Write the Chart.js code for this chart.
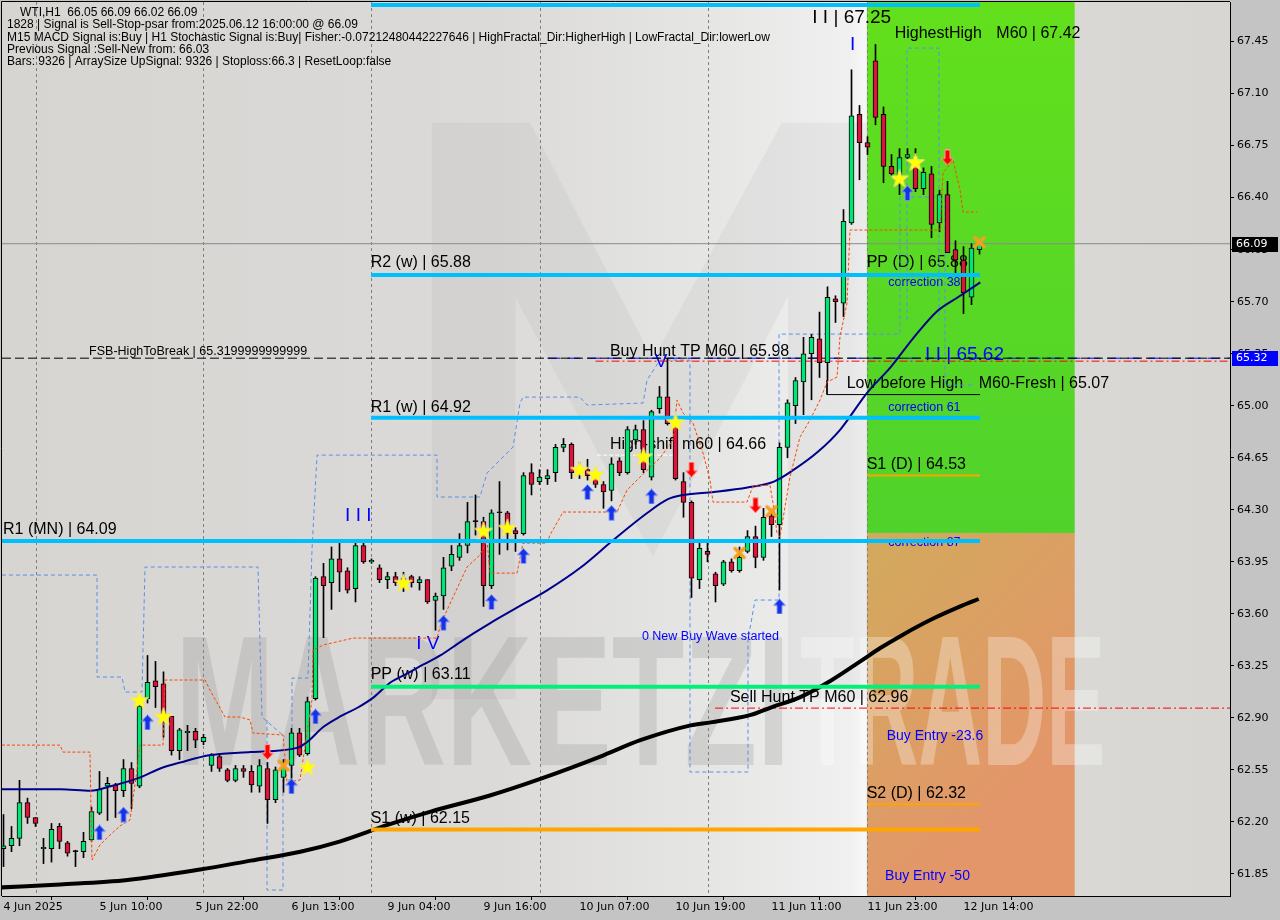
<!DOCTYPE html>
<html><head><meta charset="utf-8">
<script src="https://cdn.jsdelivr.net/npm/chart.js@4.4.0/dist/chart.umd.min.js"></script>
<style>html,body{margin:0;padding:0;background:#c4c4c4;overflow:hidden}canvas{display:block}</style>
</head><body><canvas id="c" width="1280" height="920"></canvas>
<script>
// ---------- DATA ----------
const opens  = [62.02,62.04,62.09,62.33,62.23,62.02,62.02,62.17,62.06,62.00,62.00,62.08,62.26,62.44,62.45,62.41,62.56,62.44,63.03,63.15,63.13,62.91,62.68,62.80,62.81,62.74,62.58,62.64,62.55,62.48,62.56,62.54,62.44,62.56,62.35,62.50,62.58,62.80,62.66,63.03,63.85,63.81,63.97,63.89,63.77,64.06,63.95,63.91,63.83,63.85,63.80,63.85,63.81,63.83,63.69,63.72,63.92,63.98,64.06,64.22,64.22,63.79,64.28,64.28,64.16,64.14,64.55,64.49,64.51,64.55,64.72,64.74,64.58,64.57,64.52,64.47,64.43,64.63,64.55,64.77,64.84,64.52,64.98,65.06,64.90,64.49,64.35,63.83,64.02,63.87,63.80,63.95,63.89,64.02,64.12,63.98,64.26,64.20,64.72,65.00,65.16,65.35,65.45,65.29,65.72,65.69,66.23,66.96,66.77,67.32,66.96,66.61,66.54,66.67,66.62,66.46,66.56,66.23,66.42,66.05,65.98,65.73,66.05];
const highs  = [62.25,62.17,62.48,62.36,62.23,62.09,62.19,62.19,62.07,62.01,62.13,62.30,62.54,62.50,62.46,62.62,62.60,62.99,63.32,63.28,63.21,62.91,62.83,62.85,62.83,62.79,62.66,62.66,62.56,62.58,62.58,62.58,62.62,62.60,62.57,62.62,62.83,62.83,63.04,63.85,63.94,64.05,64.08,63.91,64.10,64.08,63.97,63.93,63.88,63.88,63.88,63.86,63.85,63.83,63.74,63.98,64.06,64.14,64.35,64.40,64.25,64.30,64.49,64.29,64.18,64.55,64.61,64.57,64.57,64.74,64.78,64.75,64.62,64.64,64.57,64.49,64.65,64.65,64.86,64.87,64.90,64.97,65.13,65.32,64.92,64.55,64.36,64.08,64.08,63.88,63.96,63.97,64.05,64.16,64.19,64.31,64.30,64.75,65.04,65.19,65.46,65.48,65.63,65.80,65.74,66.32,67.26,67.02,66.81,67.43,67.01,66.69,66.73,66.73,66.73,66.60,66.61,66.45,66.51,66.11,66.07,66.09,66.09];
const lows   = [61.90,62.00,62.04,62.19,62.17,61.92,61.93,62.02,61.97,61.90,61.96,62.07,62.25,62.21,62.23,62.37,62.29,62.43,63.00,62.97,62.77,62.65,62.62,62.68,62.70,62.72,62.54,62.54,62.47,62.47,62.50,62.40,62.40,62.19,62.33,62.40,62.46,62.64,62.65,63.02,63.44,63.63,63.75,63.74,63.68,63.94,63.94,63.81,63.77,63.79,63.75,63.78,63.76,63.67,63.49,63.63,63.89,63.96,64.01,64.13,63.65,63.77,64.00,64.03,64.02,64.13,64.40,64.47,64.47,64.49,64.69,64.51,64.51,64.50,64.45,64.31,64.36,64.53,64.54,64.74,64.55,64.50,64.95,64.87,64.50,64.25,63.71,63.77,63.95,63.68,63.79,63.88,63.88,64.01,63.91,63.96,64.12,63.76,64.65,64.88,64.94,65.04,65.19,65.17,65.56,65.60,66.22,66.52,66.69,66.89,66.50,66.54,66.42,66.66,66.44,66.42,66.13,66.17,66.03,65.87,65.62,65.68,66.02];
const closes = [62.04,62.09,62.33,62.23,62.19,62.03,62.15,62.07,61.99,62.00,62.07,62.27,62.42,62.46,62.41,62.56,62.46,62.98,63.14,63.11,62.91,62.68,62.82,62.81,62.75,62.77,62.65,62.56,62.48,62.56,62.54,62.45,62.58,62.35,62.55,62.57,62.80,62.65,63.01,63.84,63.79,63.97,63.88,63.76,64.06,63.95,63.96,63.83,63.85,63.81,63.84,63.81,63.83,63.68,63.72,63.91,64.00,64.06,64.22,64.22,63.79,64.28,64.28,64.14,64.14,64.53,64.47,64.52,64.53,64.72,64.74,64.55,64.55,64.53,64.47,64.42,64.61,64.55,64.84,64.84,64.57,64.96,65.06,64.88,64.51,64.35,63.84,64.04,64.00,63.79,63.95,63.89,63.98,64.12,63.98,64.25,64.20,64.72,65.02,65.17,65.35,65.46,65.29,65.73,65.70,66.24,66.95,66.77,66.74,66.94,66.61,66.56,66.67,66.69,66.46,66.57,66.22,66.42,66.03,65.98,65.76,66.06,66.09];

const timeLabels    = ['4 Jun 2025','5 Jun 10:00','5 Jun 22:00','6 Jun 13:00','9 Jun 04:00','9 Jun 16:00','10 Jun 07:00','10 Jun 19:00','11 Jun 11:00','11 Jun 23:00','12 Jun 14:00'];
const timeLabelBars = [0,12,24,36,48,60,72,84,96,108,120];
const priceTicks    = [61.85,62.20,62.55,62.90,63.25,63.60,63.95,64.30,64.65,65.00,65.35,65.70,66.05,66.40,66.75,67.10,67.45];
const separatorBars = [4.06,24.94,45.94,67.06,88.06,107.94];

const navyBars  = [-0.4,7.1,10.9,13.4,17.1,19.6,22.1,25.9,30.9,36.8,38,40,42.1,44.3,46.3,48.4,50.5,52.5,54.6,56.8,58.8,60.9,63.8,68,72.1,76.3,80.5,83,85,88.8,93,96.3,98.8,101.8,104.6,108,110.9,113.8,116.8,119.3,122.1];
const navyVals  = [62.42,62.42,62.41,62.44,62.50,62.56,62.60,62.65,62.67,62.70,62.74,62.84,62.91,62.97,63.04,63.14,63.20,63.26,63.32,63.40,63.47,63.54,63.63,63.76,63.91,64.10,64.28,64.37,64.40,64.42,64.45,64.49,64.57,64.69,64.84,65.09,65.26,65.46,65.64,65.73,65.83];
const blackBars = [-0.2,7.1,15.5,24.6,30.9,37.1,42.1,48,53.4,60.9,67.1,74.6,79.6,85.9,88.4,93.4,95.9,99.6,103.4,107.1,109.6,112.1,115.9,119.6,121.9];
const blackVals = [61.76,61.78,61.81,61.88,61.94,62.00,62.07,62.18,62.27,62.38,62.49,62.64,62.75,62.85,62.87,62.92,62.97,63.04,63.15,63.28,63.37,63.45,63.56,63.65,63.70];
const trailBars = [-0.19,7.06,7.44,10.81,11.06,12.06,13.31,14.56,15.81,16.69,17.06,19.94,20.19,25.19,25.81,27.69,29.56,30.81,31.19,34.94,35.44,37.06,38.56,38.69,39.94,43.69,54.19,54.56,55.44,57.94,59.56,60.44,60.81,64.19,64.94,67.94,68.31,69.94,76.69,77.94,79.56,82.06,83.69,84.19,84.94,86.19,87.44,88.31,88.69,92.94,93.69,95.81,96.19,96.69,97.06,98.31,99.56,100.81,102.06,102.94,104.19,104.56,105.44,105.81,117.06,117.44,118.69,119.56,119.94,121.69];
const trailVals = [62.717,62.717,62.670,62.670,61.944,62.045,62.112,62.173,62.213,62.549,62.717,62.717,63.155,63.155,63.087,62.906,62.906,62.886,62.798,62.785,62.468,62.482,63.020,63.356,63.390,63.437,63.437,63.511,63.625,63.915,63.996,64.096,63.874,63.874,64.076,64.076,64.130,64.285,64.285,64.433,64.520,64.648,64.769,65.038,64.951,64.883,64.682,64.500,64.352,64.352,64.460,64.466,64.345,64.143,64.117,64.520,64.789,64.904,65.038,65.159,65.193,65.462,65.691,66.182,66.182,66.565,66.653,66.451,66.303,66.303];

const chanABars = [-0.19,11.69,11.69,14.81,15.19,17.31,17.69,31.81,32.31,35.19];
const chanAVals = [63.861,63.861,63.175,63.175,63.074,63.074,63.915,63.915,62.906,62.771];
const chanBBars = [32.94,32.94,34.94,34.94,36.06,36.06,38.06,38.56,39.19,54.19,54.19,59.56,60.44,63.69,64.56,64.94,72.06,72.94,79.94,80.44,82.06,85.81,85.81,93.06,93.06,93.94,96.94,96.94,112.06,112.06,117.69,117.69,121.44];
const chanBVals = [62.886,61.742,61.742,62.482,62.482,63.168,63.168,64.029,64.668,64.668,64.386,64.386,64.547,64.722,65.018,65.058,65.058,65.005,65.018,65.173,65.307,65.307,62.536,62.536,63.424,63.693,63.693,65.482,65.482,66.404,66.404,65.139,65.139];
const chanCBars = [112.94,112.94,116.94,116.94];
const chanCVals = [65.576,67.406,67.406,65.576];

const upArrowBars   = [12,15,18,36,39,55,61,65,73,76,81,97,113];
const upArrowVals   = [62.13,62.25,62.87,62.44,62.91,63.54,63.68,63.99,64.42,64.28,64.39,63.65,66.43];
const downArrowBars = [33,86,94,118];
const downArrowVals = [62.67,64.57,64.33,66.67];
const starBars      = [17,20,38,50,60,63,72,74,80,84,112,114];
const starVals      = [63.02,62.91,62.57,63.81,64.16,64.18,64.57,64.54,64.66,64.89,66.53,66.64];
const crossBars     = [35,92,96,122];
const crossVals     = [62.58,64.01,64.29,66.10];

// pivot / level lines
const levelVals = [67.695,65.88,64.92,64.09,63.11,62.15,64.53,62.32];
const levelFrom = [45.94,45.94,45.94,-0.19,45.94,45.94,107.94,107.94];
const levelTo   = [122.06,122.06,122.06,122.06,122.06,122.06,122.06,122.06];
const levelKind = ['cyan','cyan','cyan','cyan','green','orange','orangeThin','orangeThin'];

const dashVals = [65.32,65.32,65.30,62.966,66.09,64.668];
const dashFrom = [-0.19,68.0,74.0,88.94,-0.19,74.2];
const dashTo   = [153.31,153.31,153.31,153.31,153.31,84.0];
const dashKind = ['black','blue','red','red','gray','white'];

const lowBeforeHighBars = [102.94,102.94,122.06];
const lowBeforeHighVals = [65.17,65.075,65.075];

const zoneFromBar = 107.94, zoneToBar = 133.9, zoneSplitPrice = 64.144;

const noteTexts  = ['R2 (w) | 65.88','R1 (w) | 64.92','R1 (MN) | 64.09','PP (w) | 63.11','S1 (w) | 62.15','FSB-HighToBreak | 65.3199999999999','Buy Hunt TP M60 | 65.98','High-shift m60 | 64.66','Low before High','M60-Fresh | 65.07','Sell Hunt TP M60 | 62.96','PP (D) | 65.88','S1 (D) | 64.53','S2 (D) | 62.32','HighestHigh','M60 | 67.42','I I | 67.25','I','I I I','I V','V','I I | 65.62','correction 38','correction 61','correction 87','Buy Entry -23.6','Buy Entry -50','0 New Buy Wave started'];
const noteBars   = [45.9,45.9,-0.06,45.9,45.9,10.7,75.8,75.8,105.4,121.9,90.8,107.9,107.9,107.9,111.4,124.1,101.1,105.8,42.7,51.6,81.4,115.2,110.6,110.6,110.6,110.4,110.2,79.8];
const notePrices = [65.93,64.96,64.14,63.16,62.19,65.34,65.334,64.709,65.119,65.119,63.007,65.933,64.574,62.361,67.473,67.473,67.574,67.393,64.224,63.363,65.26,65.307,65.805,64.964,64.056,62.751,61.809,63.424];
const noteKind   = ['L','L','L','L','L','S','L','L','L','L','L','L','L','L','L','L','K','B','B','B','B','B','c','c','c','e','e','c'];

const headerLines = ['WTI,H1  66.05 66.09 66.02 66.09','1828 | Signal is Sell-Stop-psar from:2025.06.12 16:00:00 @ 66.09','M15 MACD Signal is:Buy | H1 Stochastic Signal is:Buy| Fisher:-0.07212480442227646 | HighFractal_Dir:HigherHigh | LowFractal_Dir:lowerLow','Previous Signal :Sell-New from: 66.03','Bars: 9326 | ArraySize UpSignal: 9326 | Stoploss:66.3 | ResetLoop:false'];
const bidPrice = 66.09, signalPrice = 65.32;

// ---------- STYLES ----------
const BULL = '#00e676', BEAR = '#dc143c';
const levelStyle = {cyan:{c:'#00bfff',w:4}, green:{c:'#00f07a',w:4}, orange:{c:'#ffa500',w:4}, orangeThin:{c:'#ffa500',w:2}};
const dashStyle = {black:{c:'#000',d:[9,4]}, blue:{c:'#0000ff',d:[13,7]}, red:{c:'#ff0000',d:[8,3,2,3]}, gray:{c:'#8a8a8a',d:[]}, white:{c:'#ffffff',d:[4,2]}};
const noteStyle = {
  L:{f:'16px "Liberation Sans"',c:'#000'}, S:{f:'12.5px "Liberation Sans"',c:'#000'},
  K:{f:'19px "Liberation Sans"',c:'#000'}, B:{f:'19px "Liberation Sans"',c:'#0000ff'},
  c:{f:'12.5px "Liberation Sans"',c:'#0000ff'}, e:{f:'14px "Liberation Sans"',c:'#0000ff'}
};

function mk(w,h,fn){const c=document.createElement('canvas');c.width=w;c.height=h;fn(c.getContext('2d'));return c;}
const starImg = mk(20,20,g=>{g.beginPath();for(let i=0;i<10;i++){const r=i%2?3.8:9.5;const a=-Math.PI/2+i*Math.PI/5;g.lineTo(10+r*Math.cos(a),10.8+r*Math.sin(a));}g.closePath();g.fillStyle='#ffff00';g.fill();g.strokeStyle='#f3e27a';g.lineWidth=1;g.stroke();});
const upImg = mk(13,16,g=>{g.beginPath();g.moveTo(6.5,0.5);g.lineTo(12.5,7);g.lineTo(9,7);g.lineTo(9,15.5);g.lineTo(4,15.5);g.lineTo(4,7);g.lineTo(0.5,7);g.closePath();g.fillStyle='#1432e6';g.fill();g.strokeStyle='#8c9cf5';g.lineWidth=1;g.stroke();});
const downImg = mk(13,16,g=>{g.beginPath();g.moveTo(6.5,15.5);g.lineTo(12.5,9);g.lineTo(9,9);g.lineTo(9,0.5);g.lineTo(4,0.5);g.lineTo(4,9);g.lineTo(0.5,9);g.closePath();g.fillStyle='#ff0000';g.fill();g.strokeStyle='#ff9a9a';g.lineWidth=1;g.stroke();});
const crossImg = mk(14,14,g=>{g.strokeStyle='#f5a020';g.lineWidth=3.5;g.lineCap='round';g.beginPath();g.moveTo(2.5,2.5);g.lineTo(11.5,11.5);g.moveTo(11.5,2.5);g.lineTo(2.5,11.5);g.stroke();});

// ---------- DATASETS ----------
const idx = opens.map((_,i)=>i);
const pts = (xs,ys)=>xs.map((x,i)=>({x:x,y:ys[i]}));
const lineDs = (xs,ys,color,width,dash,order,extra)=>Object.assign({type:'line',data:pts(xs,ys),borderColor:color,borderWidth:width,borderDash:dash||[],pointRadius:0,fill:false,tension:0,order:order},extra||{});
const markerDs = (xs,ys,img)=>({type:'line',data:pts(xs,ys),showLine:false,pointStyle:img,pointRadius:8,order:0});

const datasets = [];
datasets.push(lineDs(chanABars,chanAVals,'#5a8fe8',1,[4,3],9));
datasets.push(lineDs(chanBBars,chanBVals,'#5a8fe8',1,[4,3],9));
datasets.push(lineDs(chanCBars,chanCVals,'#5a8fe8',1,[4,3],9));
dashVals.forEach((v,i)=>{const s=dashStyle[dashKind[i]];datasets.push(lineDs([dashFrom[i],dashTo[i]],[v,v],s.c,1,s.d,8));});
datasets.push(lineDs(lowBeforeHighBars,lowBeforeHighVals,'#000',1,[],8));
datasets.push({type:'bar',data:idx.map(i=>({x:i,y:[lows[i],highs[i]]})),backgroundColor:'#000',barThickness:1,grouped:false,order:6});
datasets.push({type:'bar',data:idx.map(i=>({x:i,y:[opens[i],closes[i]]})),backgroundColor:idx.map(i=>closes[i]>opens[i]?BULL:(closes[i]<opens[i]?BEAR:'#000')),borderColor:'#000',borderWidth:1,borderSkipped:false,barThickness:5,minBarLength:1,grouped:false,order:5});
datasets.push(lineDs(blackBars,blackVals,'#000',4,[],4,{cubicInterpolationMode:'monotone'}));
datasets.push(lineDs(navyBars,navyVals,'#00008b',2,[],4,{cubicInterpolationMode:'monotone'}));
datasets.push(lineDs(trailBars,trailVals,'#ff4500',1,[3,2],3));
levelVals.forEach((v,i)=>{const s=levelStyle[levelKind[i]];datasets.push(lineDs([levelFrom[i],levelTo[i]],[v,v],s.c,s.w,[],2,{borderCapStyle:'butt'}));});
datasets.push(markerDs(upArrowBars,upArrowVals,upImg));
datasets.push(markerDs(downArrowBars,downArrowVals,downImg));
datasets.push(markerDs(starBars,starVals,starImg));
datasets.push(markerDs(crossBars,crossVals,crossImg));

// ---------- DECORATION PLUGIN ----------
const deco = {
  id:'deco',
  beforeDraw(chart){
    const g=chart.ctx, a=chart.chartArea, xs=chart.scales.x, ys=chart.scales.y;
    g.save();
    g.fillStyle='#c4c4c4'; g.fillRect(0,0,chart.width,chart.height);
    const bg=g.createLinearGradient(a.left,0,a.right,0);
    bg.addColorStop(0,'#d6d5d2'); bg.addColorStop(0.4,'#dbdad8'); bg.addColorStop(0.58,'#e6e6e5');
    bg.addColorStop(0.69,'#f0f0f0'); bg.addColorStop(0.703,'#f7f7f7'); bg.addColorStop(0.706,'#dcdbd8'); bg.addColorStop(1,'#d7d6d2');
    g.fillStyle=bg; g.fillRect(a.left,a.top,a.right-a.left,a.bottom-a.top);
    // M logo watermark
    const fx=f=>a.left+f*(a.right-a.left), fy=f=>a.top+f*(a.bottom-a.top);
    g.fillStyle='rgba(130,130,130,0.09)';
    g.beginPath();
    [[0.35,0.78],[0.35,0.135],[0.43,0.135],[0.53,0.40],[0.635,0.135],[0.707,0.135],[0.707,0.78],[0.64,0.78],[0.64,0.33],[0.53,0.62],[0.418,0.33],[0.418,0.78]].forEach((p,i)=>{i?g.lineTo(fx(p[0]),fy(p[1])):g.moveTo(fx(p[0]),fy(p[1]));});
    g.closePath(); g.fill();
    // zones
    const zx0=xs.getPixelForValue(zoneFromBar), zx1=xs.getPixelForValue(zoneToBar), zs=ys.getPixelForValue(zoneSplitPrice);
    const gg=g.createLinearGradient(0,a.top,0,zs); gg.addColorStop(0,'#62e01c'); gg.addColorStop(1,'#50d22c');
    g.fillStyle=gg; g.fillRect(zx0,a.top,zx1-zx0,zs-a.top);
    const og=g.createLinearGradient(zx0,zs,zx1,zs+200); og.addColorStop(0,'#d2aa5c'); og.addColorStop(1,'#e3966a');
    g.fillStyle=og; g.fillRect(zx0,zs,zx1-zx0,a.bottom-zs);
    // wordmark watermark
    g.font='bold 186px "Liberation Sans"'; g.textBaseline='alphabetic';
    let w=g.measureText('MARKETZI').width;
    g.save(); g.translate(fx(0.141),fy(0.853)); g.scale(615/w,1); g.fillStyle='rgba(140,140,140,0.24)'; g.fillText('MARKETZI',0,0); g.restore();
    w=g.measureText('TRADE').width;
    g.save(); g.translate(fx(0.65),fy(0.853)); g.scale(305/w,1); g.fillStyle='rgba(255,255,255,0.30)'; g.fillText('TRADE',0,0); g.restore();
    // separators
    g.strokeStyle='#808080'; g.lineWidth=1; g.setLineDash([3,3]);
    separatorBars.forEach(b=>{const x=Math.round(xs.getPixelForValue(b))+0.5;g.beginPath();g.moveTo(x,a.top);g.lineTo(x,a.bottom);g.stroke();});
    g.setLineDash([]);
    // notes
    g.textBaseline='alphabetic'; g.textAlign='left';
    noteTexts.forEach((t,i)=>{const s=noteStyle[noteKind[i]];g.font=s.f;g.fillStyle=s.c;g.fillText(t,xs.getPixelForValue(noteBars[i]),ys.getPixelForValue(notePrices[i]));});
    g.restore();
  },
  afterDraw(chart){
    const g=chart.ctx, a=chart.chartArea, ys=chart.scales.y;
    g.save();
    g.strokeStyle='#000'; g.lineWidth=1;
    g.beginPath(); g.moveTo(a.left-0.5,a.bottom); g.lineTo(a.left-0.5,a.top-0.5); g.lineTo(a.right,a.top-0.5); g.stroke();
    g.font='12px "Liberation Sans"'; g.fillStyle='#000'; g.textBaseline='middle';
    const hy=[12.7,24.5,37.7,50,61.7];
    headerLines.forEach((t,i)=>g.fillText(t,i===0?20:7,hy[i]));
    // price boxes
    g.font='11px "DejaVu Sans"'; g.textBaseline='middle';
    const box=(p,bgc)=>{const y=Math.round(ys.getPixelForValue(p));g.fillStyle=bgc;g.fillRect(a.right+2,y-7,46,15);g.fillStyle='#fff';g.fillText(p.toFixed(2),a.right+6,y+0.5);};
    box(bidPrice,'#000'); box(signalPrice,'#0000ff');
    g.restore();
  }
};

Chart.defaults.font.family='"DejaVu Sans"';
const labelMap={}; timeLabelBars.forEach((b,i)=>labelMap[b]=timeLabels[i]);
const noPad = s=>{s.paddingTop=0;s.paddingBottom=0;s.paddingLeft=0;s.paddingRight=0;};

new Chart(document.getElementById('c'),{
  type:'bar',
  data:{datasets:datasets},
  options:{
    responsive:false, animation:false, devicePixelRatio:1,
    layout:{padding:{left:2,top:2,right:0,bottom:0},autoPadding:false},
    plugins:{legend:{display:false},tooltip:{enabled:false}},
    scales:{
      x:{type:'linear',position:'bottom',min:-0.1875,max:153.3125,offset:false,
        afterBuildTicks:s=>{s.ticks=timeLabelBars.map(v=>({value:v}));},
        afterFit:s=>{s.height=24;noPad(s);},
        ticks:{autoSkip:false,maxRotation:0,align:'start',padding:1,color:'#000',font:{size:11,family:'"DejaVu Sans"'},callback:v=>labelMap[v]||''},
        grid:{drawOnChartArea:false,drawTicks:true,tickLength:4,color:'#000'},
        border:{display:true,color:'#000'}},
      y:{type:'linear',position:'right',min:61.702,max:67.716,
        afterBuildTicks:s=>{s.ticks=priceTicks.map(v=>({value:v}));},
        afterFit:s=>{s.width=50;noPad(s);},
        ticks:{padding:3,color:'#000',font:{size:11,family:'"DejaVu Sans"'},callback:v=>Number(v).toFixed(2)},
        grid:{drawOnChartArea:false,drawTicks:true,tickLength:4,color:'#000'},
        border:{display:true,color:'#000'}}
    }
  },
  plugins:[deco]
});
</script></body></html>
